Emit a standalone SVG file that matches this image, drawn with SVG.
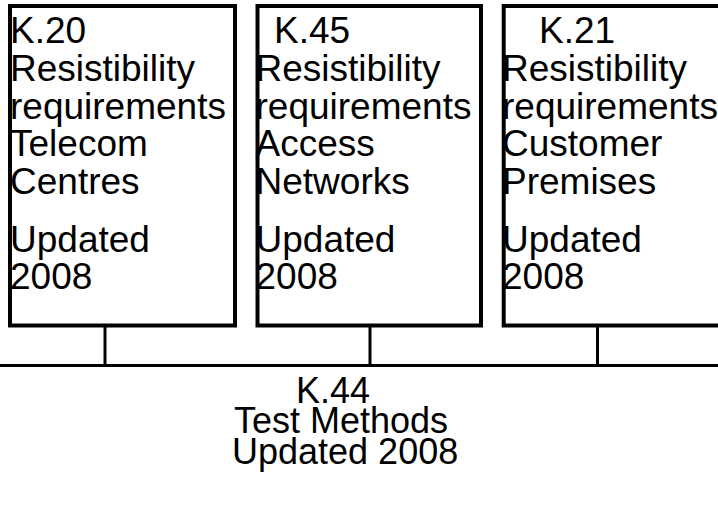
<svg xmlns="http://www.w3.org/2000/svg" width="718" height="512" viewBox="0 0 718 512">
<style>
.box{fill:#fff;stroke:#000;stroke-width:4}
.conn{stroke:#000;stroke-width:3;fill:none}
text{font-family:"Liberation Sans",Arial,sans-serif;font-size:37px;fill:#000}
#k44 text{font-size:36px}
</style>
<rect width="718" height="512" fill="#fff"/>
<g id="connectors">
<line class="conn" x1="0" y1="365.5" x2="718" y2="365.5"/>
<line class="conn" x1="105" y1="327" x2="105" y2="365.5"/>
<line class="conn" x1="370" y1="327" x2="370" y2="365.5"/>
<line class="conn" x1="597.5" y1="327" x2="597.5" y2="365.5"/>
</g>
<g id="k20">
<rect class="box" x="10" y="6" width="225" height="319.5"/>
<text x="10" y="43.3">K.20</text>
<text x="10" y="81">Resistibility</text>
<text x="10" y="118.7">requirements</text>
<text x="10" y="156.4">Telecom</text>
<text x="10" y="194.1">Centres</text>
<text x="10" y="251.7">Updated</text>
<text x="10" y="289.4">2008</text>
</g>
<g id="k45">
<rect class="box" x="257.5" y="6" width="223.5" height="319.5"/>
<text x="274" y="43.3">K.45</text>
<text x="255.5" y="81">Resistibility</text>
<text x="255.5" y="118.7">requirements</text>
<text x="255.5" y="156.4">Access</text>
<text x="255.5" y="194.1">Networks</text>
<text x="255.5" y="251.7">Updated</text>
<text x="255.5" y="289.4">2008</text>
</g>
<g id="k21">
<rect class="box" x="503.7" y="6" width="225" height="319.5"/>
<text x="539" y="43.3">K.21</text>
<text x="502" y="81">Resistibility</text>
<text x="502" y="118.7">requirements</text>
<text x="502" y="156.4">Customer</text>
<text x="502" y="194.1">Premises</text>
<text x="502" y="251.7">Updated</text>
<text x="502" y="289.4">2008</text>
</g>
<g id="k44">
<text x="296" y="403.3">K.44</text>
<text x="234" y="433">Test Methods</text>
<text x="232" y="464">Updated 2008</text>
</g>
</svg>
